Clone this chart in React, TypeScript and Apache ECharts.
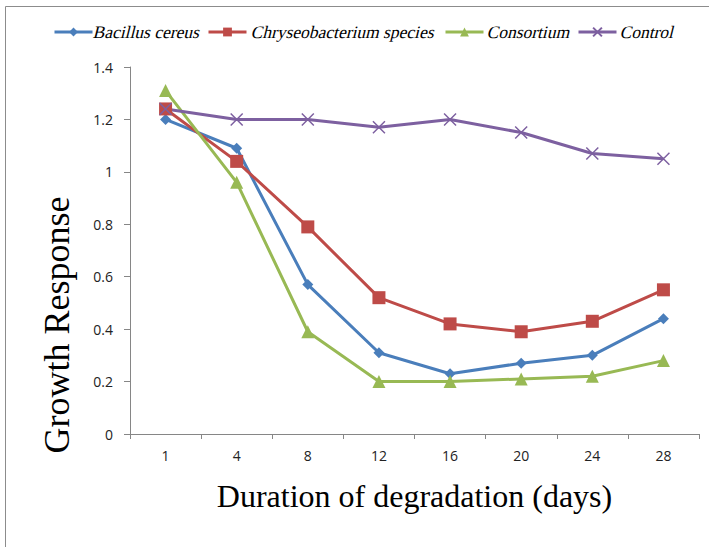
import React, { useEffect, useRef } from "react";
import * as echarts from "echarts";

const days = ["1", "4", "8", "12", "16", "20", "24", "28"];
const bacillus = [1.2, 1.09, 0.57, 0.31, 0.23, 0.27, 0.3, 0.44];
const chryseo = [1.24, 1.04, 0.79, 0.52, 0.42, 0.39, 0.43, 0.55];
const consortium = [1.31, 0.96, 0.39, 0.2, 0.2, 0.21, 0.22, 0.28];
const control = [1.24, 1.2, 1.2, 1.17, 1.2, 1.15, 1.07, 1.05];
const seriesNames = ["Bacillus cereus", "Chryseobacterium species", "Consortium", "Control"];
const yTitle = "Growth Response";
const xTitle = "Duration of degradation (days)";

const CROSS = "path://M0,0 L10,10 M10,0 L0,10";
const SERIF = "'Liberation Serif', 'Times New Roman', serif";
const legendIconX = [48, 202, 439, 572];
const legendTextX = [94, 252, 488, 621];

export default function App() {
  const ref = useRef<HTMLDivElement>(null);
  useEffect(() => {
    const chart = echarts.init(ref.current!, null, { renderer: "svg" });
    const mk = (name: string, data: number[], color: string, symbol: string, size: number, extra: any = {}) => ({
      name,
      type: "line",
      data,
      symbol,
      symbolSize: size,
      showAllSymbol: true,
      lineStyle: { color, width: 3 },
      itemStyle: { color, ...extra },
    });
    const legendTexts = seriesNames.map((name, i) => ({
      type: "text",
      x: legendTextX[i],
      y: 32,
      skewX: -0.25,
      style: {
        text: name,
        fontFamily: SERIF,
        fontSize: 17.5,
        fill: "#000",
        align: "left",
        verticalAlign: "middle",
      },
      silent: true,
    }));
    chart.setOption({
      animation: false,
      backgroundColor: "#fff",
      graphic: [
        {
          type: "rect",
          shape: { x: 5.5, y: 6.5, width: 720, height: 560 },
          style: { fill: "none", stroke: "#8c8c8c", lineWidth: 1 },
          silent: true,
        },
        {
          type: "text",
          x: 57,
          y: 325,
          rotation: Math.PI / 2,
          style: {
            text: yTitle,
            fontFamily: SERIF,
            fontSize: 36,
            fill: "#000",
            align: "center",
            verticalAlign: "middle",
          },
          silent: true,
        },
        ...legendTexts,
      ],
      legend: seriesNames.map((name, i) => ({
        top: 21.5,
        left: legendIconX[i],
        itemWidth: 38,
        itemHeight: 11,
        data: [name],
        selectedMode: false,
        lineStyle: { width: 3 },
        formatter: () => "",
      })),
      grid: { left: 130, right: 10, top: 67, bottom: 113 },
      xAxis: {
        type: "category",
        data: days,
        boundaryGap: true,
        axisLine: { lineStyle: { color: "#868686", width: 1 } },
        axisTick: { show: true, length: 5, lineStyle: { color: "#868686" } },
        axisLabel: { fontFamily: "Open Sans", fontSize: 14, color: "#222", margin: 14 },
        name: xTitle,
        nameLocation: "middle",
        nameGap: 46,
        nameTextStyle: { fontFamily: SERIF, fontSize: 32, color: "#000" },
      },
      yAxis: {
        type: "value",
        min: 0,
        max: 1.4,
        interval: 0.2,
        axisLine: { show: true, lineStyle: { color: "#868686", width: 1 } },
        axisTick: { show: true, inside: false, length: 6, lineStyle: { color: "#868686" } },
        splitLine: { show: false },
        axisLabel: {
          fontFamily: "Open Sans",
          fontSize: 14,
          color: "#222",
          margin: 17,
          formatter: (v: number) => String(Math.round(v * 10) / 10),
        },
      },
      series: [
        mk(seriesNames[0], bacillus, "#4a7ebb", "diamond", 11),
        mk(seriesNames[1], chryseo, "#be4b48", "rect", 13),
        mk(seriesNames[2], consortium, "#98b954", "triangle", 13),
        mk(seriesNames[3], control, "#7d60a0", CROSS, 12, { borderColor: "#7d60a0", borderWidth: 1.5 }),
      ],
    });
    return () => chart.dispose();
  }, []);
  return (
    <div
      ref={ref}
      style={{ position: "absolute", left: 0, top: 0, width: 709, height: 547 }}
    />
  );
}
